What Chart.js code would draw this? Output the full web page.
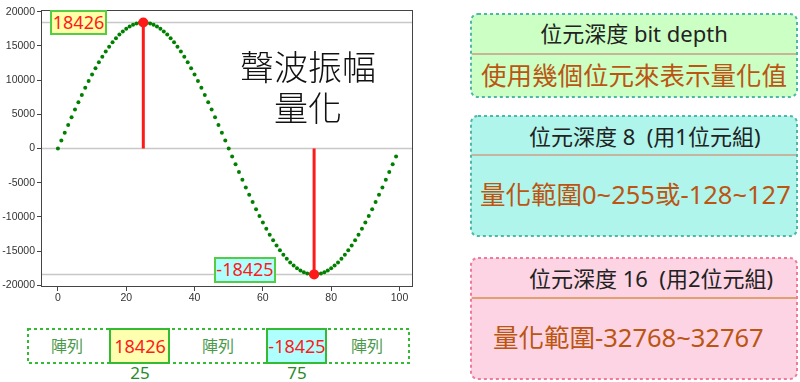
<!DOCTYPE html>
<html>
<head>
<meta charset="utf-8">
<script src="https://cdn.jsdelivr.net/npm/chart.js@4/dist/chart.umd.min.js"></script>
<style>
  body { margin: 0; background: #fff; width: 800px; height: 382px; position: relative; overflow: hidden;
         font-family: "Noto Sans", "Noto Sans CJK TC", sans-serif; }
  .abs { position: absolute; box-sizing: border-box; white-space: pre; }
  #wrap { position: absolute; left: 0; top: 0; width: 420px; height: 305px; }
  #boxes { position: absolute; left: 0; top: 0; }
  .tag { font-size: 18px; color: #ff1a1a; text-align: center; border: 2px solid #55cc44; line-height: 20px; }
  .cell { border: 2px solid #33bb33; }
  .head { font-size: 22px; color: #222; line-height: 26px; }
  .body { font-size: 25.5px; color: #bb5511; line-height: 30px; }
  .rule { height: 2px; }
</style>
</head>
<body>
<!-- dashed boxes (cards + array strip) -->
<svg id="boxes" width="800" height="382">
  <rect x="471" y="14" width="326" height="83" rx="7" fill="#ccffc4" stroke="#4db8a8" stroke-width="2" stroke-dasharray="3 3"/>
  <rect x="471" y="116" width="326" height="120" rx="7" fill="#b0f5ec" stroke="#4db8a8" stroke-width="2" stroke-dasharray="3 3"/>
  <rect x="471" y="258" width="326" height="121" rx="7" fill="#fcd4e4" stroke="#f07a9a" stroke-width="2" stroke-dasharray="3 3"/>
  <rect x="28" y="329" width="381" height="34" fill="none" stroke="#33bb33" stroke-width="2" stroke-dasharray="3 3"/>
</svg>

<div id="wrap"><canvas id="waveChart"></canvas></div>

<!-- labels inside the plot -->
<div class="abs tag" style="left:50px;top:10px;width:57px;height:25px;background:#ffffa8;">18426</div>
<div class="abs tag" style="left:214px;top:257px;width:62px;height:26px;background:#b0ffff;">-18425</div>
<div class="abs" style="left:228px;top:45px;width:160px;text-align:center;font-family:'Noto Sans CJK TC';font-weight:300;font-size:34px;line-height:41px;color:#111;">聲波振幅
量化</div>

<!-- array strip under the chart -->
<div class="abs cell" style="left:109px;top:328px;width:61px;height:36px;background:#ffffb0;"></div>
<div class="abs cell" style="left:266px;top:328px;width:61px;height:36px;background:#b0ffff;"></div>
<div id="strip"></div>

<!-- card texts -->
<div class="abs rule" style="left:472px;top:53px;width:324px;background:#c8b496;"></div>
<div class="abs head" style="left:470px;top:20px;width:328px;text-align:center;">位元深度 bit depth</div>
<div class="abs body" style="left:470px;top:60px;width:328px;text-align:center;">使用幾個位元來表示量化值</div>

<div class="abs rule" style="left:472px;top:154px;width:324px;background:#c4b4a0;"></div>
<div class="abs head" style="left:529px;top:123px;">位元深度 8  (用1位元組)</div>
<div class="abs body" style="left:480px;top:179px;">量化範圍0~255或-128~127</div>

<div class="abs rule" style="left:472px;top:297px;width:324px;background:#e0a070;"></div>
<div class="abs head" style="left:529px;top:265px;">位元深度 16  (用2位元組)</div>
<div class="abs body" style="left:493px;top:322px;">量化範圍-32768~32767</div>

<script>
// sampled amplitude, one value per sample index 0..99
const samples = [
  0, 1157, 2309, 3453, 4582, 5694, 6783, 7845, 8877, 9873,
  10831, 11745, 12614, 13432, 14197, 14907, 15558, 16147, 16672, 17132,
  17524, 17847, 18100, 18281, 18390, 18426, 18390, 18281, 18100, 17847,
  17524, 17132, 16672, 16147, 15558, 14907, 14197, 13432, 12614, 11745,
  10831, 9873, 8877, 7845, 6783, 5694, 4582, 3453, 2309, 1157,
  0, -1157, -2309, -3453, -4582, -5694, -6783, -7845, -8877, -9873,
  -10831, -11745, -12614, -13432, -14197, -14907, -15558, -16147, -16672, -17132,
  -17524, -17847, -18100, -18281, -18390, -18425, -18390, -18281, -18100, -17847,
  -17524, -17132, -16672, -16147, -15558, -14907, -14197, -13432, -12614, -11745,
  -10831, -9873, -8877, -7845, -6783, -5694, -4582, -3453, -2309, -1157
];
const peakIndex = [25, 75];
const peakValues = [18426, -18425];
const refLines = [18426, 0, -18425];
const xTicks = [0, 20, 40, 60, 80, 100];
const yTicks = [-20000, -15000, -10000, -5000, 0, 5000, 10000, 15000, 20000];
const xRange = [-4.95, 103.95];
const yRange = [-20268, 20268];

// array strip text
const stripCells = [
  { text: "陣列", x: 67, color: "#4a9a4a" },
  { text: String(peakValues[0]), x: 140, color: "#ff1a1a" },
  { text: "陣列", x: 218, color: "#4a9a4a" },
  { text: String(peakValues[1]), x: 297, color: "#ff1a1a" },
  { text: "陣列", x: 367, color: "#4a9a4a" }
];
const strip = document.getElementById("strip");
stripCells.forEach(c => {
  const d = document.createElement("div");
  d.className = "abs";
  d.style.cssText = `left:${c.x - 40}px;top:333px;width:80px;text-align:center;font-size:${c.text === "陣列" ? 16 : 18}px;line-height:26px;color:${c.color};`;
  d.textContent = c.text;
  strip.appendChild(d);
});
peakIndex.forEach((p, i) => {
  const d = document.createElement("div");
  d.className = "abs";
  d.style.cssText = `left:${stripCells[i * 2 + 1].x - 30}px;top:362px;width:60px;text-align:center;font-size:17px;line-height:22px;color:#2a8a2a;`;
  d.textContent = String(p);
  strip.appendChild(d);
});

const datasets = [];
// red stems with dots at the peaks
peakIndex.forEach((p, i) => {
  datasets.push({
    data: [{ x: p, y: 0 }, { x: p, y: peakValues[i] }],
    showLine: true,
    borderColor: "#ff1a1a",
    borderWidth: 3,
    pointRadius: [0, 5],
    pointBackgroundColor: "#ff1a1a",
    pointBorderWidth: 0
  });
});
// green samples
datasets.push({
  data: samples.map((v, i) => ({ x: i, y: v })),
  showLine: false,
  pointRadius: 2,
  pointBackgroundColor: "#008000",
  pointBorderWidth: 0
});
// grey reference lines
refLines.forEach(v => {
  datasets.push({
    data: [{ x: xRange[0], y: v }, { x: xRange[1], y: v }],
    showLine: true,
    borderColor: "#c8c8c8",
    borderWidth: 1.5,
    pointRadius: 0
  });
});

// axes frame
const framePlugin = {
  id: "frame",
  afterDraw(chart) {
    const a = chart.chartArea;
    const ctx = chart.ctx;
    ctx.save();
    ctx.strokeStyle = "#444";
    ctx.lineWidth = 1;
    ctx.strokeRect(a.left + 0.5, a.top + 0.5, a.right - a.left - 1, a.bottom - a.top - 1);
    ctx.restore();
  }
};

const tickFont = { family: "'Liberation Sans', Arial, sans-serif", size: 10.5 };

new Chart(document.getElementById("waveChart"), {
  type: "scatter",
  data: { datasets },
  options: {
    responsive: true,
    maintainAspectRatio: false,
    animation: false,
    layout: { padding: { top: 10, right: 7, left: 0, bottom: 0 } },
    plugins: { legend: { display: false }, tooltip: { enabled: false } },
    elements: { line: { tension: 0 } },
    scales: {
      x: {
        type: "linear",
        min: xRange[0],
        max: xRange[1],
        afterBuildTicks: s => { s.ticks = xTicks.map(v => ({ value: v })); },
        afterFit: s => { s.height = 18; },
        grid: { drawOnChartArea: false, drawTicks: true, tickLength: 4, color: "#444" },
        border: { display: false },
        ticks: { font: tickFont, color: "#333", padding: 1, maxRotation: 0, callback: v => String(v) }
      },
      y: {
        type: "linear",
        min: yRange[0],
        max: yRange[1],
        afterBuildTicks: s => { s.ticks = yTicks.map(v => ({ value: v })); },
        afterFit: s => { s.width = 41; },
        grid: { drawOnChartArea: false, drawTicks: true, tickLength: 4, color: "#444" },
        border: { display: false },
        ticks: { font: tickFont, color: "#333", padding: 2, callback: v => String(v) }
      }
    }
  },
  plugins: [framePlugin]
});
</script>
</body>
</html>
